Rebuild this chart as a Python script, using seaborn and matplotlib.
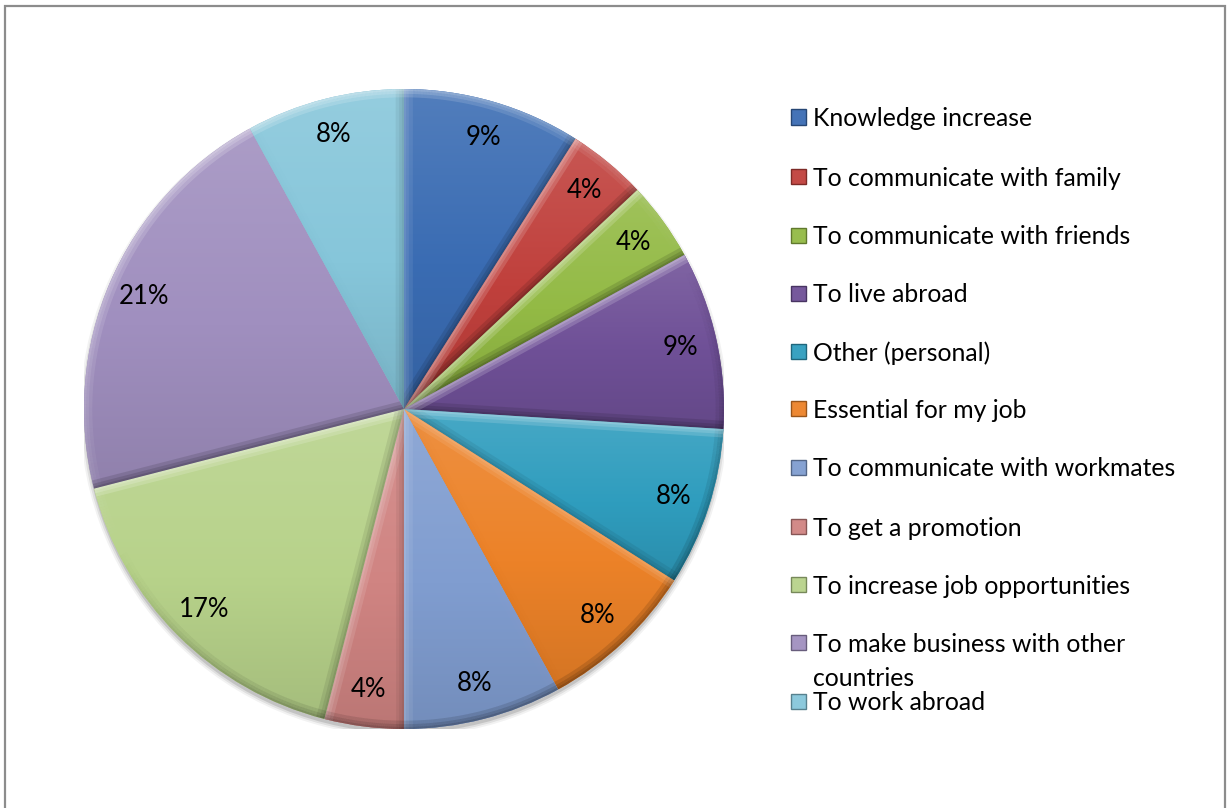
import numpy as np
import matplotlib
matplotlib.use("Agg")
import matplotlib.pyplot as plt
from matplotlib.patches import Rectangle, Circle
import seaborn as sns

# Reasons for learning English (share of respondents, %)
reasons = [
    "Knowledge increase",
    "To communicate with family",
    "To communicate with friends",
    "To live abroad",
    "Other (personal)",
    "Essential for my job",
    "To communicate with workmates",
    "To get a promotion",
    "To increase job opportunities",
    "To make business with other\ncountries",
    "To work abroad",
]
shares = [9, 4, 4, 9, 8, 8, 8, 4, 17, 21, 8]
slice_colors = [
    "#3A6CB3", "#C0403C", "#93BA45", "#6F5097", "#2F9DBE", "#EC8228",
    "#809DD0", "#D08482", "#B7D28A", "#A08FBF", "#86C6DA",
]

sns.set_theme(style="white")
palette = sns.color_palette(slice_colors)
plt.rcParams["font.family"] = ["Lato", "DejaVu Sans"]

W, H = 1228, 808
fig = plt.figure(figsize=(W / 100, H / 100), dpi=100)
fig.patch.set_facecolor("white")

# pie axes placed in pixel units
cx, cy, R = 404, 409, 320
ax = fig.add_axes([(cx - R) / W, (H - cy - R) / H, 2 * R / W, 2 * R / H])
ax.set_axis_off()

# soft drop shadow under the pie
for k, a in [(1.012, 0.05), (1.006, 0.08), (1.0, 0.12)]:
    ax.add_patch(Circle((0, -0.012), k, facecolor="black", edgecolor="none",
                        alpha=a, zorder=0))

wedges, texts, autotexts = ax.pie(
    shares,
    colors=palette,
    startangle=90,
    counterclock=False,
    autopct=lambda p: f"{p:.0f}%",
    pctdistance=0.885,
    wedgeprops=dict(linewidth=0, zorder=1),
    textprops=dict(fontsize=18.5, color="black"),
)
for t in autotexts:
    t.set_zorder(10)


def shade(rgb, f):
    rgb = np.array(rgb)
    if f >= 0:
        return rgb + (1 - rgb) * f
    return rgb * (1 + f)


# vertical gradient inside each slice
for w, c in zip(wedges, palette):
    verts = w.get_path().vertices
    x0, x1 = verts[:, 0].min(), verts[:, 0].max()
    y0, y1 = verts[:, 1].min(), verts[:, 1].max()
    fs = np.linspace(0.12, -0.10, 200)
    grad = np.array([shade(c, f) for f in fs]).reshape(200, 1, 3)
    im = ax.imshow(grad, extent=(x0, x1, y0, y1), origin="upper",
                   aspect="auto", zorder=2, interpolation="bilinear")
    im.set_clip_path(w)

# bevel: highlight on upward-facing edges, shade on downward-facing ones
light = np.array([-0.45, 0.9])
light /= np.linalg.norm(light)
for w in wedges:
    th = np.radians(np.linspace(w.theta1, w.theta2, 120))
    arc = np.c_[w.r * np.cos(th), w.r * np.sin(th)]
    poly = np.vstack([[0, 0], arc, [0, 0]])
    for p, q in zip(poly[:-1], poly[1:]):
        d = q - p
        if np.hypot(*d) == 0:
            continue
        n = np.array([d[1], -d[0]]) / np.hypot(*d)
        s = float(n @ light)
        col = "white" if s > 0 else "black"
        amp = 0.17 * s if s > 0 else 0.12 * (-s)
        for lw in (12, 7, 3):
            ln, = ax.plot([p[0], q[0]], [p[1], q[1]], color=col,
                          alpha=amp, linewidth=lw, solid_capstyle="butt",
                          zorder=3)
            ln.set_clip_path(w)

ax.set_xlim(-1, 1)
ax.set_ylim(-1, 1)
ax.set_aspect("equal")

# legend, laid out in pixel rows
row_y = [117, 176, 235, 293, 351, 409, 467, 526, 584, 642, 701]
line_gap = 34
for label, c, y in zip(reasons, palette, row_y):
    fig.add_artist(Rectangle((791 / W, 1 - (y + 7.5) / H), 15 / W, 15 / H,
                             transform=fig.transFigure,
                             facecolor=shade(c, 0.05),
                             edgecolor=shade(c, -0.35), linewidth=1))
    for i, line in enumerate(label.split("\n")):
        fig.text(813 / W, 1 - (y + i * line_gap) / H, line, fontsize=17.8,
                 color="black", ha="left", va="center_baseline")

# chart frame
fig.add_artist(Rectangle((5 / W, -0.05), 1220 / W, 1 - 6 / H + 0.05,
                         transform=fig.transFigure, facecolor="none",
                         edgecolor="#8C8C8C", linewidth=1.6))

fig.savefig("out.png", dpi=100)
